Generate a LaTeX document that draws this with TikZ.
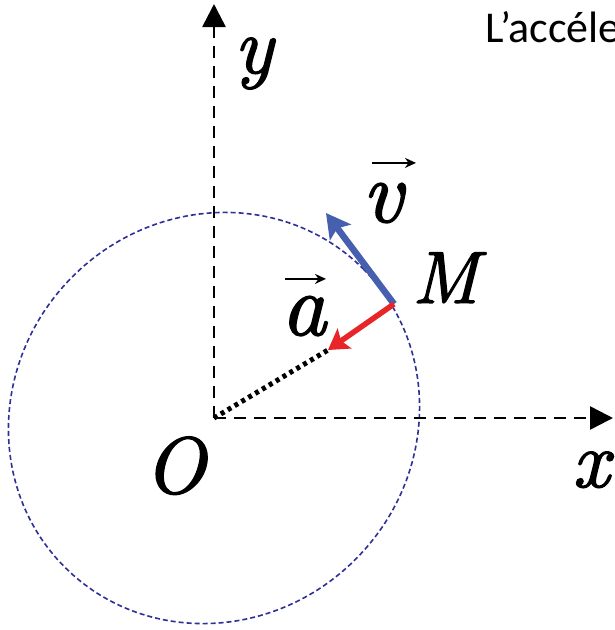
\documentclass[tikz,border=0pt]{standalone}
\usepackage{fontspec}
\newfontfamily\carlitofont{Carlito}
\newfontfamily\lmitfont{lmroman10-italic.otf}[FakeBold=1.6]
\usetikzlibrary{arrows.meta}
\definecolor{circblue}{RGB}{45,48,150}
\definecolor{velblue}{RGB}{70,95,175}
\definecolor{accred}{RGB}{232,38,42}
\tikzset{
  axis/.style={line width=2.6pt, dash pattern=on 12pt off 8pt, -{Triangle[length=23pt,width=23pt]}},
  lbl/.style={inner sep=0pt, font=\lmitfont\fontsize{80}{80}\selectfont},
  biglbl/.style={inner sep=0pt, font=\lmitfont\fontsize{88}{88}\selectfont},
  veca/.style={line width=2.4pt, -{Stealth[length=11pt,width=10pt]}},
  velarr/.style={velblue, line width=6.5pt, -{Stealth[length=24pt,width=26pt,inset=5pt]}},
  accarr/.style={accred, line width=5.5pt, -{Stealth[length=20pt,width=24pt,inset=4pt]}},
}
\begin{document}
\begin{tikzpicture}[x=1pt,y=-1pt]
\useasboundingbox (0,0) rectangle (614,630);
\fill[white] (0,0) rectangle (614,630);
\coordinate (O) at (214,418);
\coordinate (M) at (394,304);
\coordinate (xend) at (613,418);
\coordinate (yend) at (214,4);
\coordinate (vtip) at (326,213);
\coordinate (atip) at (328,350);
% circle
\draw[circblue, line width=1.6pt, dash pattern=on 5pt off 3pt, rotate around={45:(O)}] (O) ellipse[x radius=211, y radius=200];
% axes
\draw[axis] (O) -- (xend);
\draw[axis] (O) -- (yend);
% dotted radius
\draw[line width=5pt, dash pattern=on 4pt off 4pt] (O) -- (atip);
% vectors
\draw[velarr] (M) -- (vtip);
\draw[accarr] (M) -- (atip);
% labels
\node[lbl, anchor=base west] (ylab) at (234,73) {y};
\node[lbl, anchor=base west] (xlab) at (572,487) {x};
\node[lbl, anchor=base west] (Olab) at (144,493) {O};
\node[inner sep=0pt, font=\lmitfont\fontsize{74}{74}\selectfont, anchor=base west] (Mlab) at (412,303) {M};
\node[biglbl, anchor=base west] (alab) at (281,335) {a};
\node[biglbl, anchor=base west] (vlab) at (362,222) {v};
\draw[veca] ([xshift=4pt,yshift=17pt]alab.north west) -- ([xshift=45pt,yshift=17pt]alab.north west);
\draw[veca] ([xshift=10pt,yshift=20pt]vlab.north west) -- ([xshift=54pt,yshift=20pt]vlab.north west);
% title
\node[inner sep=0pt, anchor=base west, font=\carlitofont\fontsize{44}{44}\selectfont] (title) at (485,42) {L’accéle};
\end{tikzpicture}
\end{document}
